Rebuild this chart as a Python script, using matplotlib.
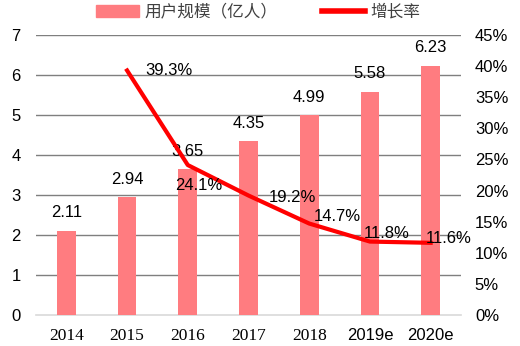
import matplotlib
matplotlib.use('Agg')
import matplotlib.pyplot as plt
import matplotlib.patches as mpatches
import matplotlib.lines as mlines
import numpy as np

years = ['2014', '2015', '2016', '2017', '2018', '2019e', '2020e']
users = [2.11, 2.94, 3.65, 4.35, 4.99, 5.58, 6.23]
growth = [None, 39.3, 24.1, 19.2, 14.7, 11.8, 11.6]
left_ticks = [0, 1, 2, 3, 4, 5, 6, 7]
right_ticks = [0, 5, 10, 15, 20, 25, 30, 35, 40, 45]

bar_color = '#FF7C80'
line_color = '#FF0000'
cjk = ['Noto Sans CJK SC', 'DejaVu Sans']

fig = plt.figure(figsize=(5.2, 3.46), dpi=100)
ax = fig.add_axes([36/520, 31/346, 425/520, 280/346])
x = np.arange(len(years))

ax.bar(x, users, width=0.31, color=bar_color, zorder=3)
ax.set_xlim(-0.5, len(years) - 0.5)
ax.set_ylim(0, 7)
ax.set_yticks(left_ticks)
for v in left_ticks[1:]:
    ax.axhline(v, color='#7f7f7f', lw=1, zorder=1)
for s in ['top', 'left', 'right']:
    ax.spines[s].set_visible(False)
ax.spines['bottom'].set_color('#d9d9d9')
ax.spines['bottom'].set_linewidth(1.2)
ax.tick_params(axis='both', length=0)
ax.tick_params(axis='y', pad=11, labelsize=12)
ax.set_yticklabels([str(v) for v in left_ticks], family='Liberation Sans', fontsize=12)
ax.set_xticks(x)
ax.set_xticklabels(years)
ax.tick_params(axis='x', pad=9)
for i, lab in enumerate(ax.get_xticklabels()):
    if years[i].endswith('e'):
        lab.set_family('Liberation Sans')
        lab.set_fontsize(12)
    else:
        lab.set_family('Liberation Serif')
        lab.set_fontsize(12.5)

for i, v in enumerate(users):
    ax.annotate('%.2f' % v, (x[i], v), xytext=(0, 18), textcoords='offset pixels',
                ha='center', va='center', fontsize=12, family='Liberation Sans', zorder=5)

ax2 = ax.twinx()
ax2.set_ylim(0, 45)
ax2.set_yticks(right_ticks)
ax2.set_yticklabels(['%d%%' % v for v in right_ticks], family='Liberation Sans', fontsize=12)
ax2.tick_params(axis='y', length=0, pad=10)
for s in ['top', 'left', 'right', 'bottom']:
    ax2.spines[s].set_visible(False)

gx = [x[i] for i in range(len(years)) if growth[i] is not None]
gy = [g for g in growth if g is not None]
ax2.plot(gx, gy, color=line_color, lw=3, solid_joinstyle='round', zorder=4)

offsets = [(18, 0), (-13, -20), (20, -2), (5, 7), (-6, 8), (-5, 4)]
for (px, py), (ox, oy) in zip(zip(gx, gy), offsets):
    ax2.annotate('%.1f%%' % py, (px, py), xytext=(ox, oy), textcoords='offset pixels',
                 ha='left', va='center', fontsize=12, family='Liberation Sans', zorder=6)

h1 = mpatches.Patch(color=bar_color)
h2 = mlines.Line2D([], [], color=line_color, lw=4)
leg = fig.legend([h1, h2], ['用户规模（亿人）', '增长率'], loc='center', bbox_to_anchor=(258/520, 1 - 12/346),
                 ncol=2, frameon=False, handlelength=2.6, handletextpad=0.3, columnspacing=2.7,
                 prop={'family': cjk, 'size': 12})
for t in leg.get_texts():
    t.set_color('#404040')

fig.savefig('out.png', dpi=100)
